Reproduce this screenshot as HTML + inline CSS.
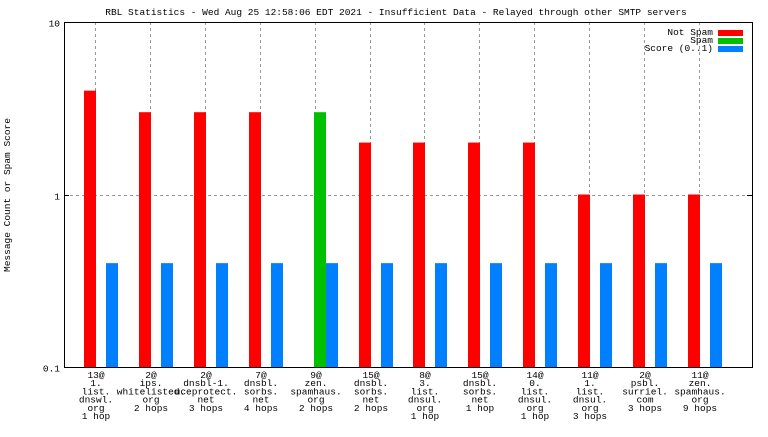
<!DOCTYPE html>
<html><head><meta charset="utf-8"><style>
body{margin:0;background:#fff}
svg text{font-family:"Liberation Mono","DejaVu Sans Mono",monospace;font-size:9.5px;fill:#000}
</style></head><body>
<svg id="c" width="768" height="432" xmlns="http://www.w3.org/2000/svg">
<text x="396" y="15" text-anchor="middle">RBL Statistics - Wed Aug 25 12:58:06 EDT 2021 - Insufficient Data - Relayed through other SMTP servers</text>
<text transform="translate(10,195) rotate(-90)" text-anchor="middle">Message Count or Spam Score</text>
<g id="grid"></g><g id="bars"></g><g id="xl"></g>
<rect x="64.5" y="22.5" width="688" height="345" fill="none" stroke="#000"/>
<g>
<text x="713" y="35" text-anchor="end">Not Spam</text>
<rect x="718" y="30" width="25" height="6" fill="#ff0000"/>
<text x="713" y="43" text-anchor="end">Spam</text>
<rect x="718" y="38" width="25" height="6" fill="#00c000"/>
<text x="713" y="51" text-anchor="end">Score (0..1)</text>
<rect x="718" y="46" width="25" height="6" fill="#0080ff"/>
</g>
</svg>
<script>
const categories=[["13@","1.","list.","dnswl.","org","1 hop"],["2@","ips.","whitelisted.","org","2 hops"],["2@","dnsbl-1.","uceprotect.","net","3 hops"],["7@","dnsbl.","sorbs.","net","4 hops"],["9@","zen.","spamhaus.","org","2 hops"],["15@","dnsbl.","sorbs.","net","2 hops"],["8@","3.","list.","dnsul.","org","1 hop"],["15@","dnsbl.","sorbs.","net","1 hop"],["14@","0.","list.","dnsul.","org","1 hop"],["11@","1.","list.","dnsul.","org","3 hops"],["2@","psbl.","surriel.","com","3 hops"],["11@","zen.","spamhaus.","org","9 hops"]];
const notSpam=[4,3,3,3,0,2,2,2,2,1,1,1];
const spam=[0,0,0,0,3,0,0,0,0,0,0,0];
const score=[0.4,0.4,0.4,0.4,0.4,0.4,0.4,0.4,0.4,0.4,0.4,0.4];
const yTicks=[0.1,1,10];
const NS="http://www.w3.org/2000/svg";
const x0=64,x1=752,yTop=22,yBot=367;
const xc=i=>95+i*54.9;
const y=v=>yBot-(Math.log10(v)+1)/2*(yBot-yTop);
function mk(t,a,p){const e=document.createElementNS(NS,t);for(const k in a)e.setAttribute(k,a[k]);p.appendChild(e);return e;}
const G=document.getElementById('grid'),B=document.getElementById('bars'),X=document.getElementById('xl'),S=document.getElementById('c');
yTicks.forEach((t,i)=>{
 const yy=Math.round(y(t))+0.5;
 if(i>0&&i<yTicks.length-1){const l=mk('line',{x1:x0,x2:x1,y1:yy,y2:yy,stroke:'#999','stroke-dasharray':'3,3'},G);
 
 }
 const tl=mk('line',{x1:x0,x2:x0+5,y1:yy,y2:yy,stroke:'#000'},G);
 
 
 const tr=mk('line',{x1:x1-5,x2:x1,y1:yy,y2:yy,stroke:'#000'},G);
 
 
 const tx=mk('text',{x:x0-4,y:yy+4,'text-anchor':'end'},G);tx.textContent=String(t);
 
 
});
categories.forEach((c,i)=>{
 const cx=Math.round(xc(i))+0.5;
 const g=mk('line',{x1:cx,x2:cx,y1:yTop,y2:yBot,stroke:'#999','stroke-dasharray':'3,3'},G);
 
 
 const c0=Math.round(xc(i));
 if(notSpam[i]>0){const r=mk('rect',{x:c0-11,y:y(notSpam[i]),width:12,height:yBot-y(notSpam[i]),fill:'#ff0000'},B);
 
 }
 if(spam[i]>0){const r=mk('rect',{x:c0-1,y:y(spam[i]),width:12,height:yBot-y(spam[i]),fill:'#00c000'},B);
 
 }
 if(score[i]>0){const r=mk('rect',{x:c0+11,y:y(score[i]),width:12,height:yBot-y(score[i]),fill:'#0080ff'},B);
 
 }
 const t=mk('text',{'text-anchor':'middle'},X);
 
 
 c.forEach((s,j)=>{const ts=mk('tspan',{x:c0+1,y:378+j*8.2},t);ts.textContent=s;});
});
</script>
</body></html>
